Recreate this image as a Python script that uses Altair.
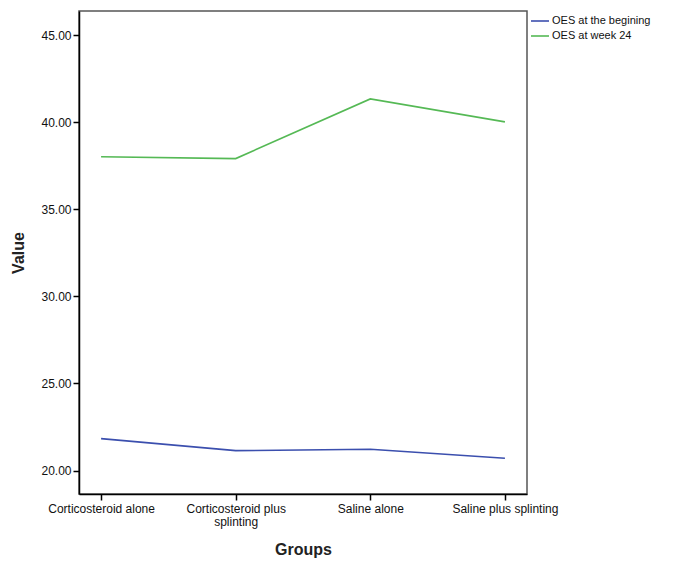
import altair as alt
import pandas as pd

groups = ["Corticosteroid alone", "Corticosteroid plus splinting", "Saline alone", "Saline plus splinting"]
series_names = ["OES at the begining", "OES at week 24"]
oes_begin = [21.83, 21.14, 21.22, 20.70]
oes_week24 = [38.03, 37.92, 41.35, 40.03]
y_ticks = [20, 25, 30, 35, 40, 45]
colors = ["#3b4fae", "#55b955"]

rows = []
for g, v in zip(groups, oes_begin):
    rows.append({"Groups": g, "Series": series_names[0], "Value": v})
for g, v in zip(groups, oes_week24):
    rows.append({"Groups": g, "Series": series_names[1], "Value": v})
df = pd.DataFrame(rows)

font = "Liberation Sans"

chart = alt.Chart(df).mark_line(strokeWidth=1.6).encode(
    x=alt.X("Groups:N", sort=groups,
            scale=alt.Scale(type="point", padding=0.164),
            axis=alt.Axis(title="Groups", labelAngle=0, domainColor="#000", domainWidth=1.5,
                          tickColor="#000", tickSize=6, tickWidth=1.5,
                          labelFont=font, labelFontSize=12, labelColor="#111",
                          labelPadding=3, labelLineHeight=13,
                          labelExpr="datum.label == 'Corticosteroid plus splinting' ? ['Corticosteroid plus', 'splinting'] : datum.label",
                          titleFont=font, titleFontSize=16, titleFontWeight="bold",
                          titleColor="#222", titlePadding=14, grid=False)),
    y=alt.Y("Value:Q",
            scale=alt.Scale(domain=[18.65, 46.4], nice=False, zero=False),
            axis=alt.Axis(title="Value", values=y_ticks, format=".2f",
                          domainColor="#000", domainWidth=1.5,
                          tickColor="#000", tickSize=6, tickWidth=1.5,
                          labelFont=font, labelFontSize=12, labelColor="#111",
                          labelPadding=2,
                          titleFont=font, titleFontSize=16, titleFontWeight="bold",
                          titleColor="#222", titlePadding=14, grid=False)),
    color=alt.Color("Series:N", sort=series_names,
                    scale=alt.Scale(domain=series_names, range=colors),
                    legend=alt.Legend(title=None, orient="none", legendX=451, legendY=0,
                                      symbolType="stroke", symbolSize=324, symbolStrokeWidth=1.6,
                                      labelFont=font, labelFontSize=11, labelColor="#111",
                                      labelOffset=2, rowPadding=0, padding=0)),
).properties(
    width=448, height=483,
    background="white",
    autosize=alt.AutoSizeParams(type="none"),
    padding={"left": 71, "top": 3, "right": 140, "bottom": 70},
).configure_view(
    stroke="#555", strokeWidth=1.5
)

chart.save("out.html", embed_options={"renderer": "svg", "actions": False})
